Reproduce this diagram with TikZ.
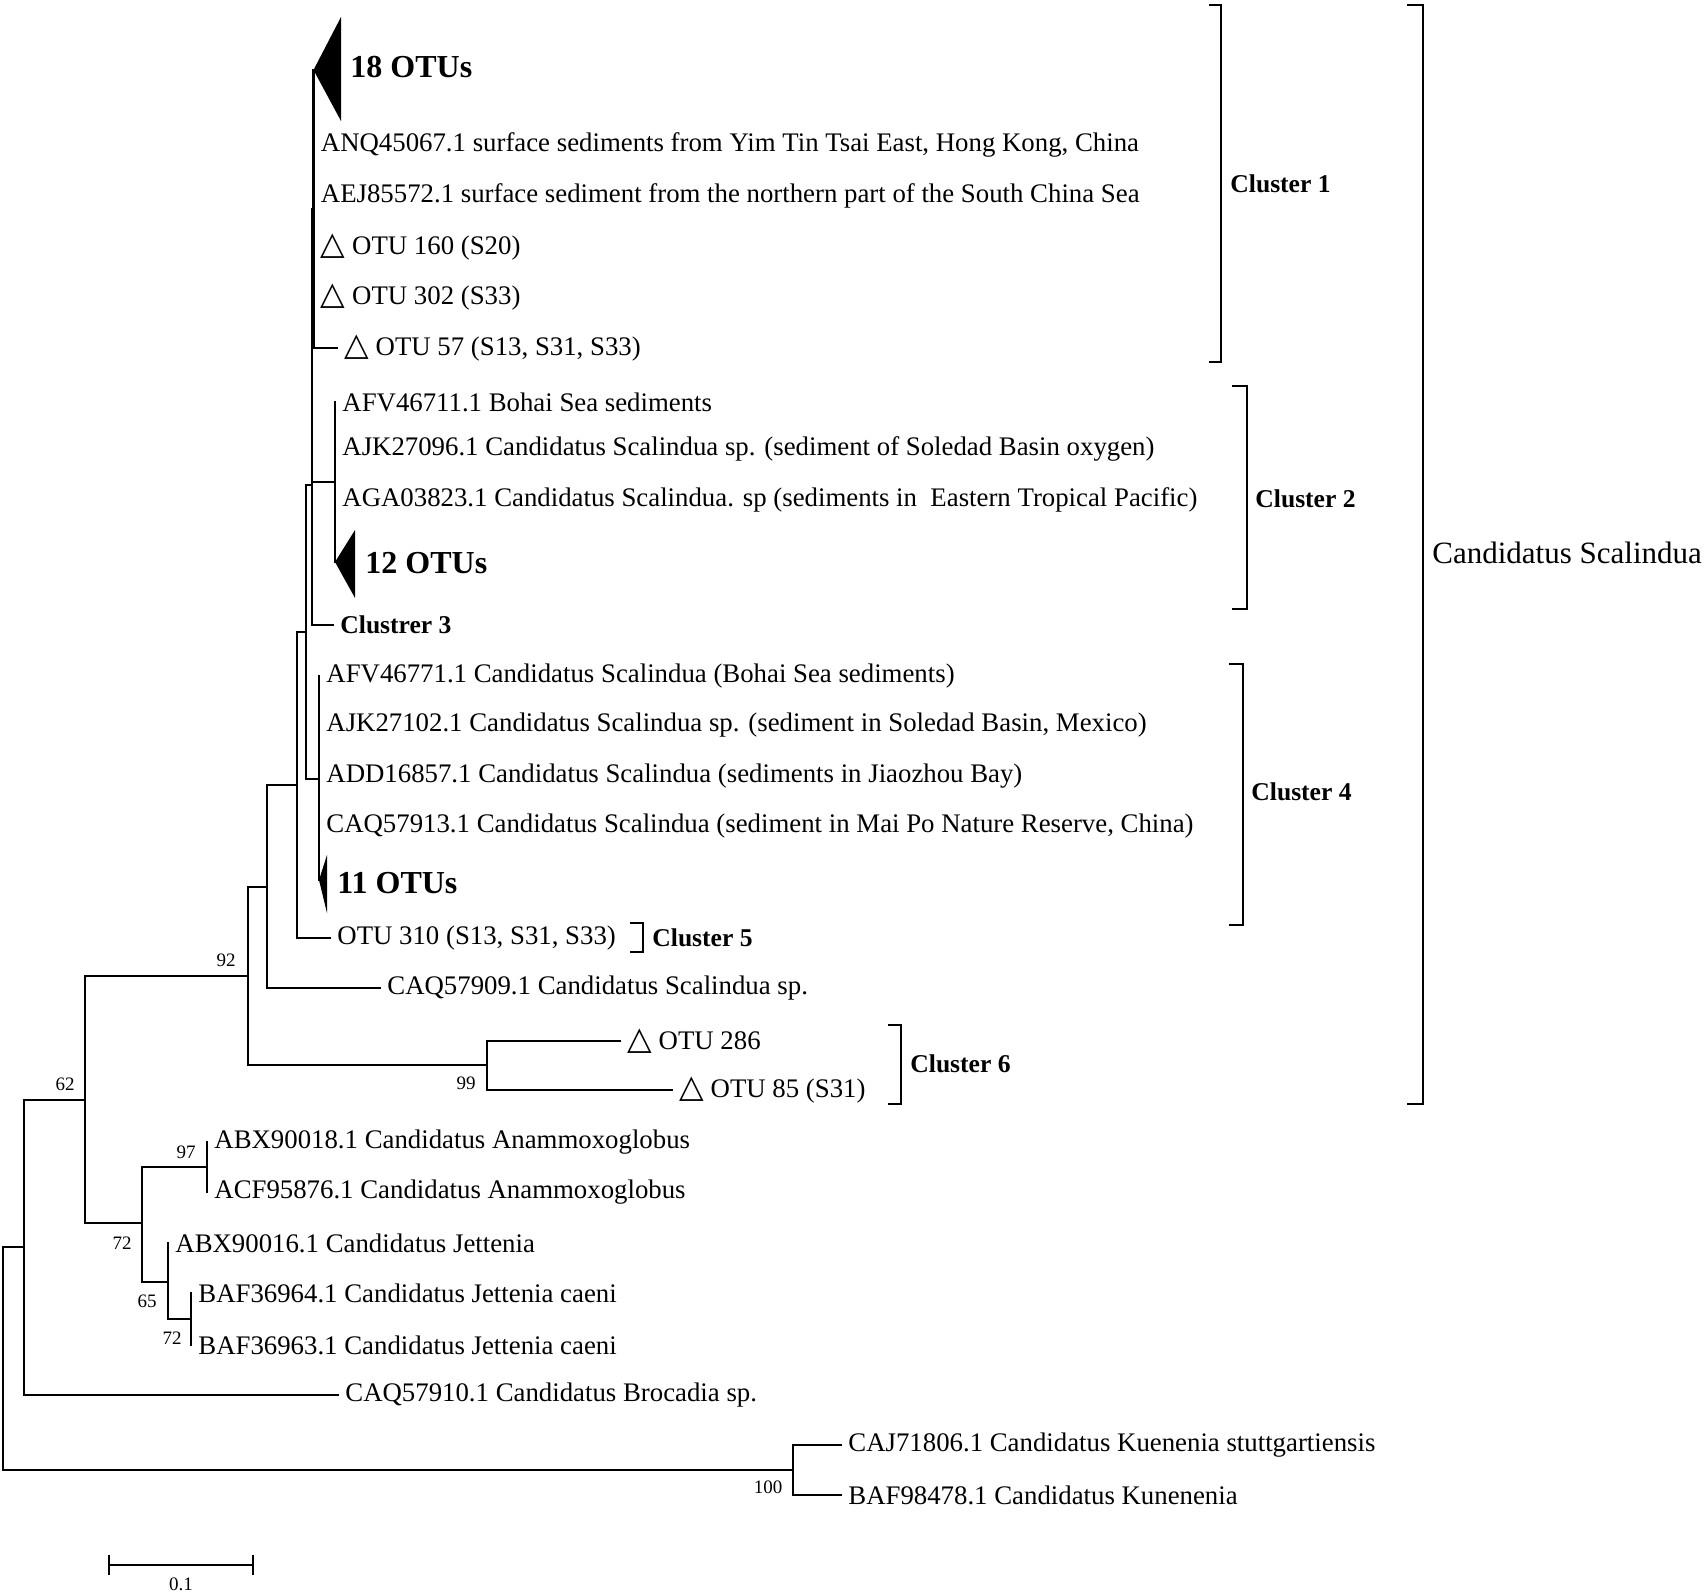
\documentclass[tikz,border=0pt]{standalone}
\usepackage{fontspec}
\setmainfont{Liberation Serif}
\newfontfamily\symfont{DejaVu Sans}
\usepackage{tikz}
\usetikzlibrary{positioning, calc}
\newcommand{\tri}{{\symfont\fontsize{16}{16}\selectfont △}}

\begin{document}
\begin{tikzpicture}[
    x=0.5pt, y=-0.5pt,
    branch/.style={line width=1.2pt, line cap=rect},
    bracket/.style={line width=1pt},
    leaf/.style={anchor=west, inner xsep=3.5pt, inner ysep=0pt, font=\fontsize{13.4}{16}\selectfont},
    otus/.style={anchor=west, inner sep=0pt, font=\bfseries\fontsize{16}{19}\selectfont},
    clus/.style={anchor=west, inner sep=0pt, font=\bfseries\fontsize{12.8}{15}\selectfont},
    boot/.style={inner sep=0pt, font=\fontsize{9.5}{11}\selectfont}
]
\useasboundingbox (0,0) rectangle (1706,1594);

% inner nodes
\coordinate (nA) at (313.5,209);
\coordinate (nB) at (312,345);
\coordinate (nC2) at (335,482);
\coordinate (nD) at (312,485);
\coordinate (nE) at (306,632);
\coordinate (nC4) at (319,779);
\coordinate (nF) at (297,785);
\coordinate (nG) at (267,887);
\coordinate (nH) at (248,976);
\coordinate (nI) at (487,1065);
\coordinate (nJ) at (85,1100);
\coordinate (nK) at (142,1223);
\coordinate (nL) at (207,1167);
\coordinate (nM) at (168,1282);
\coordinate (nN) at (191,1319);
\coordinate (nP) at (24,1247);
\coordinate (nR) at (3,1358);
\coordinate (nQ) at (793,1470);

% collapsed groups
\coordinate (t18) at (313.5,70);
\coordinate (t12) at (335,562);
\coordinate (t11) at (319,880);
\fill (t18) -- (341,17) -- (341,121) -- cycle;
\fill (t12) -- (355,530) -- (355,598) -- cycle;
\fill (t11) -- (327,855) -- (327,913) -- cycle;
\node[otus] (otu18) at (350,67) {18 OTUs};
\node[otus] (otu12) at (365,563) {12 OTUs};
\node[otus] (otu11) at (337,883) {11 OTUs};

% leaves
\node[leaf] (anq) at (313.5,145) {ANQ45067.1 surface sediments from Yim Tin Tsai East, Hong Kong, China};
\node[leaf] (aej) at (313.5,196) {AEJ85572.1 surface sediment from the northern part of the South China Sea};
\node[leaf] (otu160) at (313.5,247) {\tri{} OTU 160 (S20)};
\node[leaf] (otu302) at (313.5,297) {\tri{} OTU 302 (S33)};
\node[leaf] (otu57) at (337,348) {\tri{} OTU 57 (S13, S31, S33)};
\node[leaf] (afv711) at (335,402) {AFV46711.1 Bohai Sea sediments};
\node[leaf] (ajk096) at (335,449) {AJK27096.1 Candidatus Scalindua sp. (sediment of Soledad Basin oxygen)};
\node[leaf] (aga823) at (335,500) {AGA03823.1 Candidatus Scalindua. sp (sediments in\ \ Eastern Tropical Pacific)};
\node[leaf, font=\bfseries\fontsize{12.8}{15}\selectfont] (cl3) at (333,625) {Clustrer 3};
\node[leaf] (afv771) at (319,676) {AFV46771.1 Candidatus Scalindua (Bohai Sea sediments)};
\node[leaf] (ajk102) at (319,725) {AJK27102.1 Candidatus Scalindua sp. (sediment in Soledad Basin, Mexico)};
\node[leaf] (add857) at (319,776) {ADD16857.1 Candidatus Scalindua (sediments in Jiaozhou Bay)};
\node[leaf] (caq913) at (319,826) {CAQ57913.1 Candidatus Scalindua (sediment in Mai Po Nature Reserve, China)};
\node[leaf] (otu310) at (330,938) {OTU 310 (S13, S31, S33)};
\node[leaf] (caq909) at (380,988) {CAQ57909.1 Candidatus Scalindua sp.};
\node[leaf] (otu286) at (620,1041) {\tri{} OTU 286};
\node[leaf] (otu85) at (672,1090) {\tri{} OTU 85 (S31)};
\node[leaf] (abx018) at (207,1142) {ABX90018.1 Candidatus Anammoxoglobus};
\node[leaf] (acf876) at (207,1192) {ACF95876.1 Candidatus Anammoxoglobus};
\node[leaf] (abx016) at (168,1243) {ABX90016.1 Candidatus Jettenia};
\node[leaf] (baf964) at (191,1293) {BAF36964.1 Candidatus Jettenia caeni};
\node[leaf] (baf963) at (191,1345) {BAF36963.1 Candidatus Jettenia caeni};
\node[leaf] (caq910) at (338,1395) {CAQ57910.1 Candidatus Brocadia sp.};
\node[leaf] (caj806) at (841,1445) {CAJ71806.1 Candidatus Kuenenia stuttgartiensis};
\node[leaf] (baf478) at (841,1495) {BAF98478.1 Candidatus Kunenenia};

% branches
\draw[branch] (nA) |- (t18);
\foreach \c in {anq, aej, otu160, otu302, otu57}
    \draw[branch] (nA) |- (\c.west);
\draw[branch] (nB) |- (nA);
\draw[branch] (nB) |- (nC2);
\foreach \c in {afv711, ajk096, aga823}
    \draw[branch] (nC2) |- (\c.west);
\draw[branch] (nC2) |- (t12);
\draw[branch] (nD) |- (nB);
\draw[branch] (nD) |- (cl3.west);
\draw[branch] (nE) |- (nD);
\draw[branch] (nE) |- (nC4);
\foreach \c in {afv771, ajk102, add857, caq913}
    \draw[branch] (nC4) |- (\c.west);
\draw[branch] (nC4) |- (t11);
\draw[branch] (nF) |- (nE);
\draw[branch] (nF) |- (otu310.west);
\draw[branch] (nG) |- (nF);
\draw[branch] (nG) |- (caq909.west);
\draw[branch] (nH) |- (nG);
\draw[branch] (nH) |- (nI);
\draw[branch] (nI) |- (otu286.west);
\draw[branch] (nI) |- (otu85.west);
\draw[branch] (nJ) |- (nH);
\draw[branch] (nJ) |- (nK);
\draw[branch] (nK) |- (nL);
\draw[branch] (nK) |- (nM);
\draw[branch] (nL) |- (abx018.west);
\draw[branch] (nL) |- (acf876.west);
\draw[branch] (nM) |- (abx016.west);
\draw[branch] (nM) |- (nN);
\draw[branch] (nN) |- (baf964.west);
\draw[branch] (nN) |- (baf963.west);
\draw[branch] (nP) |- (nJ);
\draw[branch] (nP) |- (caq910.west);
\draw[branch] (nR) |- (nP);
\draw[branch] (nR) |- (nQ);
\draw[branch] (nQ) |- (caj806.west);
\draw[branch] (nQ) |- (baf478.west);

% bootstrap values
\node[boot] (b92) at (226,960) {92};
\node[boot] (b62) at (65,1084) {62};
\node[boot] (b97) at (186,1152) {97};
\node[boot] (b72a) at (122,1243) {72};
\node[boot] (b65) at (147,1301) {65};
\node[boot] (b72b) at (172,1338) {72};
\node[boot] (b99) at (466,1083) {99};
\node[boot] (b100) at (768,1487) {100};

% clusters
\draw[bracket] (1209,5) -| (1221,362) -- (1209,362);
\node[clus] (k1) at (1230,184) {Cluster 1};
\draw[bracket] (1232,386) -| (1247,609) -- (1232,609);
\node[clus] (k2) at (1255,499) {Cluster 2};
\draw[bracket] (1229,664) -| (1243,925) -- (1229,925);
\node[clus] (k4) at (1251,792) {Cluster 4};
\draw[bracket] (630,923) -| (643,952) -- (630,952);
\node[clus] (k5) at (652,938) {Cluster 5};
\draw[bracket] (888,1025) -| (901,1104) -- (888,1104);
\node[clus] (k6) at (910,1064) {Cluster 6};
\draw[bracket] (1407,5) -| (1423,1104) -- (1407,1104);
\node[anchor=west, inner sep=0pt, font=\fontsize{15.5}{18}\selectfont] (scal) at (1432,553) {Candidatus Scalindua};

% scale bar
\coordinate (sb1) at (109,1565);
\coordinate (sb2) at (253,1565);
\draw[branch] (sb1) -- (sb2);
\draw[branch] ($(sb1)+(0,-9)$) -- ($(sb1)+(0,9)$);
\draw[branch] ($(sb2)+(0,-9)$) -- ($(sb2)+(0,9)$);
\node[boot] (sblab) at (181,1584) {0.1};
\end{tikzpicture}
\end{document}
